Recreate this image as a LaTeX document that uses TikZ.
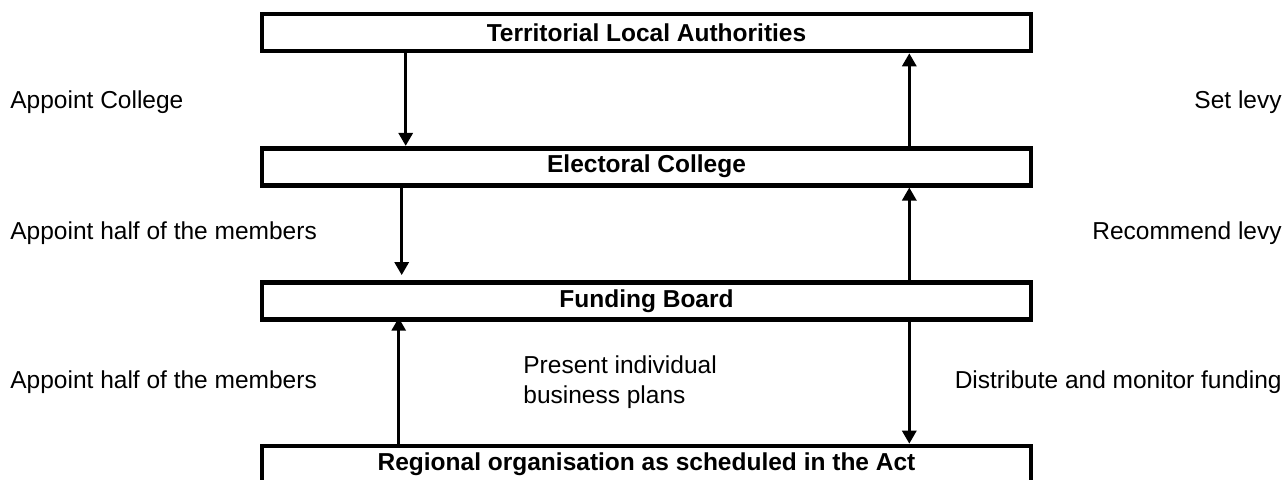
\documentclass[tikz,border=0pt]{standalone}
\usepackage{fontspec}
\setmainfont{Liberation Sans}
\usepackage{tikz}
\usetikzlibrary{positioning,arrows.meta}
\tikzset{
  orgbox/.style={draw=black, line width=2.3pt, fill=white, align=center,
    minimum width=384.5pt, minimum height=18.5pt, inner sep=0pt,
    font=\fontsize{12.25}{14.5}\selectfont\bfseries},
  flowarrow/.style={-{Triangle[width=7pt,length=6.5pt]}, line width=1.5pt},
  note/.style={inner sep=0pt, align=left, font=\fontsize{12.25}{15}\selectfont}
}

\begin{document}
\begin{tikzpicture}[node distance=46.3pt]
    \useasboundingbox (0,0) rectangle (642.5pt,239.5pt);

    \node[orgbox] (tla) at (323.25pt,223.25pt) {Territorial Local Authorities};
    \node[orgbox, below=of tla] (college) {Electoral College};
    \node[orgbox, below=of college] (board) {Funding Board};
    \node[orgbox, below=61pt of board] (regional) {Regional organisation as scheduled in the Act};

    % flows down the left, back up the right
    \draw[flowarrow] ([xshift=73pt]tla.south west) -- ([xshift=73pt]college.north west);
    \draw[flowarrow] ([xshift=-62pt]college.north east) -- ([xshift=-62pt]tla.south east);
    \draw[flowarrow, shorten >=2.5pt] ([xshift=71pt]college.south west) -- ([xshift=71pt]board.north west);
    \draw[flowarrow] ([xshift=-62pt]board.north east) -- ([xshift=-62pt]college.south east);
    \draw[flowarrow, shorten >=-2pt] ([xshift=69.5pt]regional.north west) -- ([xshift=69.5pt]board.south west);
    \draw[flowarrow, shorten <=-2pt] ([xshift=-62pt]board.south east) -- ([xshift=-62pt]regional.north east);

    \node[note, anchor=west] (appcollege) at (5pt,188.5pt) {Appoint College};
    \node[note, anchor=west] (apphalfa) at (5pt,123pt) {Appoint half of the members};
    \node[note, anchor=west] (apphalfb) at (5pt,48.5pt) {Appoint half of the members};
    \node[note, anchor=west] (plans) at (261.5pt,48.5pt) {Present individual\\business plans};
    \node[note, anchor=east] (setlevy) at (641pt,188.5pt) {Set levy};
    \node[note, anchor=east] (reclevy) at (641pt,123pt) {Recommend levy};
    \node[note, anchor=east] (distrib) at (641pt,48.5pt) {Distribute and monitor funding};
  \end{tikzpicture}
\end{document}
